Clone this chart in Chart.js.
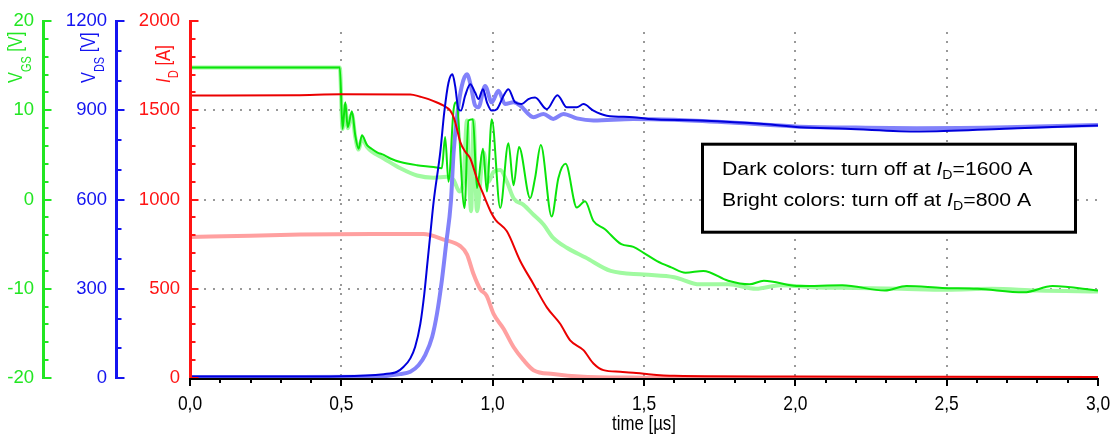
<!DOCTYPE html>
<html><head><meta charset="utf-8">
<script src="https://cdn.jsdelivr.net/npm/chart.js@4.4.1/dist/chart.umd.min.js"></script>
<style>html,body{margin:0;padding:0;background:#fff;overflow:hidden}</style>
</head><body>
<canvas id="c" width="1112" height="434"></canvas>
<script>
// ---- data (time in µs) ----
const tVgsDark = [0, 0.25, 0.495, 0.504, 0.513, 0.521, 0.535, 0.546, 0.557, 0.568, 0.585, 0.6, 0.618, 0.64, 0.662, 0.695, 0.75, 0.805, 0.832, 0.843, 0.854, 0.871, 0.88, 0.907, 0.92, 0.935, 0.948, 0.968, 0.981, 0.997, 1.025, 1.052, 1.069, 1.087, 1.124, 1.14, 1.159, 1.195, 1.217, 1.241, 1.278, 1.305, 1.333, 1.37, 1.425, 1.465, 1.5, 1.543, 1.59, 1.637, 1.696, 1.778, 1.849, 1.896, 2.014, 2.155, 2.296, 2.367, 2.485, 2.602, 2.755, 2.85, 3.0];
const vgsDark  = [14.8, 14.8, 14.8, 7.9, 10.9, 8.1, 9.9, 7.2, 5.7, 7.2, 6.1, 5.7, 5.3, 5.0, 4.6, 4.2, 3.85, 3.65, 3.5, 7.0, 2.0, 10.1, 10.9, -0.96, 8.85, 9.0, 1.3, 5.7, 0.9, 9.0, -0.96, 6.3, 1.6, 5.9, 0.15, 2.4, 6.1, -1.9, 2.4, 4.0, -0.9, -0.2, -2.4, -3.3, -5.0, -5.3, -6.0, -6.9, -7.6, -8.2, -8.0, -9.1, -9.5, -9.1, -9.7, -9.6, -10.2, -9.7, -9.9, -10.0, -10.4, -9.7, -10.2];

const tVgsBright = [0, 0.25, 0.495, 0.504, 0.513, 0.521, 0.535, 0.546, 0.557, 0.568, 0.585, 0.6, 0.64, 0.695, 0.75, 0.805, 0.849, 0.871, 0.89, 0.904, 0.915, 0.924, 0.929, 0.937, 0.948, 0.97, 0.986, 1.003, 1.025, 1.047, 1.069, 1.102, 1.135, 1.168, 1.2, 1.245, 1.307, 1.39, 1.5, 1.6, 1.684, 1.778, 1.87, 1.95, 2.07, 2.2, 2.35, 2.5, 2.65, 2.8, 3.0];
const vgsBright  = [14.8, 14.8, 14.8, 7.9, 10.6, 8.0, 9.6, 7.0, 5.6, 6.8, 5.9, 5.4, 4.6, 3.5, 2.7, 2.45, 2.55, 2.2, 0.9, 2.5, 8.85, 0.9, -1.3, 8.85, -1.3, 5.3, 2.0, 3.1, 3.3, 2.0, 0.15, -0.6, -1.7, -2.8, -4.3, -5.4, -6.5, -8.0, -8.4, -8.7, -9.5, -9.5, -10.0, -9.6, -9.85, -9.9, -10.0, -10.1, -10.0, -10.2, -10.3];

const tVdsDark = [0, 0.3, 0.5, 0.64, 0.684, 0.706, 0.728, 0.744, 0.761, 0.774, 0.785, 0.796, 0.805, 0.827, 0.84, 0.854, 0.867, 0.876, 0.887, 0.895, 0.909, 0.926, 0.942, 0.953, 0.968, 0.981, 0.997, 1.014, 1.036, 1.052, 1.074, 1.096, 1.118, 1.14, 1.179, 1.214, 1.245, 1.278, 1.3, 1.333, 1.377, 1.465, 1.514, 1.684, 1.896, 2.014, 2.167, 2.41, 2.69, 3.0];
const vdsDark  = [5, 5, 6, 13, 21, 38, 66, 105, 182, 282, 393, 504, 593, 760, 893, 993, 1021, 982, 904, 899, 949, 988, 960, 938, 971, 927, 899, 904, 949, 971, 927, 921, 938, 943, 904, 951, 910, 910, 921, 899, 882, 877, 871, 866, 854, 843, 838, 829, 838, 849];

const tVdsBright = [0, 0.3, 0.6, 0.695, 0.728, 0.755, 0.777, 0.8, 0.816, 0.832, 0.846, 0.862, 0.871, 0.884, 0.898, 0.915, 0.928, 0.942, 0.953, 0.975, 0.997, 1.019, 1.041, 1.069, 1.091, 1.135, 1.168, 1.2, 1.234, 1.278, 1.333, 1.465, 1.6, 1.8, 2.0, 2.2, 2.4, 2.7, 3.0];
const vdsBright  = [3, 3, 4, 13, 21, 43, 77, 138, 216, 327, 449, 593, 760, 893, 982, 1021, 982, 916, 910, 982, 927, 966, 921, 927, 916, 877, 888, 871, 888, 873, 866, 871, 868, 858, 846, 842, 840, 843, 851];

const tIdDark = [0, 0.35, 0.5, 0.728, 0.761, 0.788, 0.816, 0.838, 0.86, 0.873, 0.882, 0.893, 0.91, 0.926, 0.948, 0.97, 0.997, 1.01, 1.047, 1.091, 1.135, 1.179, 1.223, 1.256, 1.3, 1.333, 1.366, 1.421, 1.465, 1.509, 1.6, 2.0, 2.5, 3.0];
const idDark  = [1583, 1585, 1590, 1589, 1576, 1563, 1544, 1526, 1498, 1452, 1396, 1322, 1267, 1230, 1118, 1026, 920, 885, 822, 656, 526, 396, 304, 211, 156, 81, 44, 35, 30, 22, 12, 8, 7, 6];

const tIdBright = [0, 0.2, 0.365, 0.6, 0.772, 0.838, 0.893, 0.915, 0.937, 0.959, 0.98, 1.003, 1.036, 1.069, 1.102, 1.135, 1.2, 1.3, 1.5, 2.0, 3.0];
const idBright  = [790, 797, 804, 807, 807, 776, 739, 693, 581, 498, 461, 359, 276, 174, 100, 44, 22, 7, 2, 0, 0];

// ---- tick / grid values ----
const xGrid = [0.5, 1.0, 1.5, 2.0, 2.5];
const idGrid = [500, 1000, 1500];

const REG = '"Liberation Sans", Arial, sans-serif';
const C = {
  gAxis: '#22e622', bAxis: '#1414f0', rAxis: '#ff1414',
  gDark: 'rgb(10,228,10)', gBright: 'rgb(160,250,160)',
  bDark: 'rgb(0,0,220)', bBright: 'rgb(130,130,250)',
  rDark: 'rgb(235,0,0)', rBright: 'rgb(255,160,160)'
};

const pts = (ts, vs) => ts.map((t, i) => ({x: t, y: vs[i]}));

function yAxis(min, max, step, color, width, weight) {
  return {
    type: 'linear', position: 'left', min, max, weight,
    ticks: {stepSize: step, color, font: {family: REG, size: 18.5}, padding: 10, callback: v => String(v)},
    grid: {display: false, drawTicks: false},
    border: {display: false},
    afterFit: s => { s.width = width; }
  };
}

// draws a run of text pieces, compressed/stretched horizontally by sx
function runText(ctx, parts, sx) {
  ctx.save();
  ctx.scale(sx, 1);
  let cx = 0;
  parts.forEach(p => { ctx.font = p.font; ctx.fillText(p.text, cx, p.dy || 0); cx += ctx.measureText(p.text).width; });
  ctx.restore();
}
function vTitle(ctx, x, y, parts, color, sx) {
  ctx.save();
  ctx.translate(x, y);
  ctx.rotate(-Math.PI / 2);
  ctx.fillStyle = color;
  ctx.textBaseline = 'alphabetic';
  ctx.textAlign = 'left';
  runText(ctx, parts, sx);
  ctx.restore();
}

function drawVAxis(ctx, scale, ax, color, min, max, minor, major, top, bottom) {
  ctx.strokeStyle = color;
  ctx.lineWidth = 3;
  ctx.beginPath(); ctx.moveTo(ax, top - 1); ctx.lineTo(ax, bottom + 1); ctx.stroke();
  ctx.lineWidth = 2;
  const n = Math.round((max - min) / minor);
  for (let i = 0; i <= n; i++) {
    const v = min + i * minor;
    const py = Math.round(scale.getPixelForValue(v));
    const isMajor = Math.abs(v / major - Math.round(v / major)) < 1e-6;
    ctx.beginPath(); ctx.moveTo(ax, py); ctx.lineTo(ax + (isMajor ? 8 : 5), py); ctx.stroke();
  }
}

const decor = {
  id: 'decor',
  beforeDatasetsDraw(chart) {
    const {ctx, chartArea: a, scales} = chart;
    ctx.save();
    ctx.strokeStyle = '#999';
    ctx.lineWidth = 2;
    ctx.setLineDash([2, 7]);
    xGrid.forEach(v => {
      const px = Math.round(scales.x.getPixelForValue(v));
      ctx.beginPath(); ctx.moveTo(px, a.bottom - 2); ctx.lineTo(px, a.top + 5); ctx.stroke();
    });
    idGrid.forEach(v => {
      const py = Math.round(scales.yR.getPixelForValue(v));
      ctx.beginPath(); ctx.moveTo(a.left + 5, py); ctx.lineTo(a.right, py); ctx.stroke();
    });
    ctx.restore();
  },
  afterDatasetsDraw(chart) {
    const {ctx, chartArea: a, scales} = chart;
    ctx.save();
    ctx.setLineDash([]);
    ctx.lineCap = 'butt';
    // y axes
    drawVAxis(ctx, scales.yG, scales.yG.right - 0.5, C.gAxis, -20, 20, 2, 10, a.top, a.bottom);
    drawVAxis(ctx, scales.yB, scales.yB.right - 0.5, C.bAxis, 0, 1200, 100, 300, a.top, a.bottom);
    drawVAxis(ctx, scales.yR, a.left + 0.5, C.rAxis, 0, 2000, 100, 500, a.top, a.bottom);
    // x axis line and ticks
    const by = a.bottom + 1;
    ctx.strokeStyle = '#000';
    ctx.lineWidth = 2;
    ctx.beginPath(); ctx.moveTo(a.left - 1, by); ctx.lineTo(a.right + 1, by); ctx.stroke();
    for (let i = 0; i <= 30; i++) {
      const px = Math.round(scales.x.getPixelForValue(i / 10));
      ctx.beginPath(); ctx.moveTo(px, by); ctx.lineTo(px, by + (i % 5 === 0 ? 7 : 4)); ctx.stroke();
    }
    // x tick labels (narrow lettering) from the scale's own ticks
    ctx.fillStyle = '#000';
    ctx.textBaseline = 'alphabetic';
    ctx.textAlign = 'center';
    scales.x.ticks.forEach(t => {
      const px = scales.x.getPixelForValue(t.value);
      ctx.save(); ctx.translate(px, 410); ctx.scale(0.83, 1);
      ctx.font = '21px ' + REG;
      ctx.fillText(t.value.toFixed(1).replace('.', ','), 0, 0);
      ctx.restore();
    });
    // x title
    ctx.save(); ctx.translate((a.left + a.right) / 2, 430); ctx.scale(0.8, 1);
    ctx.font = '21px ' + REG; ctx.fillText('time [µs]', 0, 0);
    ctx.restore();
    ctx.textAlign = 'left';
    // axis titles
    const big = '21px ' + REG, sub = '14px ' + REG, bigI = 'italic 21px ' + REG;
    vTitle(ctx, 22, 83, [{text: 'V', font: big}, {text: 'GS', font: sub, dy: 9}, {text: ' [V]', font: big}], C.gAxis, 0.78);
    vTitle(ctx, 95, 83, [{text: 'V', font: big}, {text: 'DS', font: sub, dy: 9}, {text: ' [V]', font: big}], C.bAxis, 0.78);
    vTitle(ctx, 170, 83, [{text: 'I', font: bigI}, {text: 'D', font: sub, dy: 8}, {text: ' [A]', font: big}], C.rAxis, 0.8);
    // annotation box
    ctx.fillStyle = '#fff';
    ctx.fillRect(702.5, 144.2, 373, 88);
    ctx.strokeStyle = '#000';
    ctx.lineWidth = 3;
    ctx.strokeRect(702.5, 144.2, 373, 88);
    ctx.fillStyle = '#000';
    const f = '18px ' + REG, fi = 'italic 18px ' + REG, fs = '12px ' + REG;
    ctx.save(); ctx.translate(722, 175);
    runText(ctx, [{text: 'Dark colors: turn off at ', font: f}, {text: 'I', font: fi}, {text: 'D', font: fs, dy: 4}, {text: '=1600 A', font: f}], 1.18);
    ctx.restore();
    ctx.save(); ctx.translate(722, 206);
    runText(ctx, [{text: 'Bright colors: turn off at ', font: f}, {text: 'I', font: fi}, {text: 'D', font: fs, dy: 4}, {text: '=800 A', font: f}], 1.18);
    ctx.restore();
    ctx.restore();
  }
};

const ds = (label, ts, vs, axis, color, width, order) => ({
  label, data: pts(ts, vs), yAxisID: axis, borderColor: color, borderWidth: width,
  pointRadius: 0, fill: false, cubicInterpolationMode: 'monotone', order
});

new Chart(document.getElementById('c'), {
  type: 'line',
  data: {
    datasets: [
      ds('VDS 1600 A', tVdsDark, vdsDark, 'yB', C.bDark, 2, 0),
      ds('ID 1600 A', tIdDark, idDark, 'yR', C.rDark, 2, 1),
      ds('VGS 1600 A', tVgsDark, vgsDark, 'yG', C.gDark, 2, 2),
      ds('VDS 800 A', tVdsBright, vdsBright, 'yB', C.bBright, 4, 3),
      ds('VGS 800 A', tVgsBright, vgsBright, 'yG', C.gBright, 4, 4),
      ds('ID 800 A', tIdBright, idBright, 'yR', C.rBright, 4, 5)
    ]
  },
  options: {
    responsive: false, animation: false, devicePixelRatio: 1,
    layout: {padding: {top: 5, right: 14, left: 0, bottom: 0}},
    plugins: {legend: {display: false}, tooltip: {enabled: false}},
    scales: {
      x: {
        type: 'linear', position: 'bottom', min: 0, max: 3,
        ticks: {stepSize: 0.5, display: false},
        grid: {display: false, drawTicks: false},
        border: {display: false},
        afterFit: s => { s.height = 56; }
      },
      yR: yAxis(0, 2000, 500, C.rAxis, 73, 0),
      yB: yAxis(0, 1200, 300, C.bAxis, 73, 1),
      yG: yAxis(-20, 20, 10, C.gAxis, 44, 2)
    }
  },
  plugins: [decor]
});
</script>
</body></html>
